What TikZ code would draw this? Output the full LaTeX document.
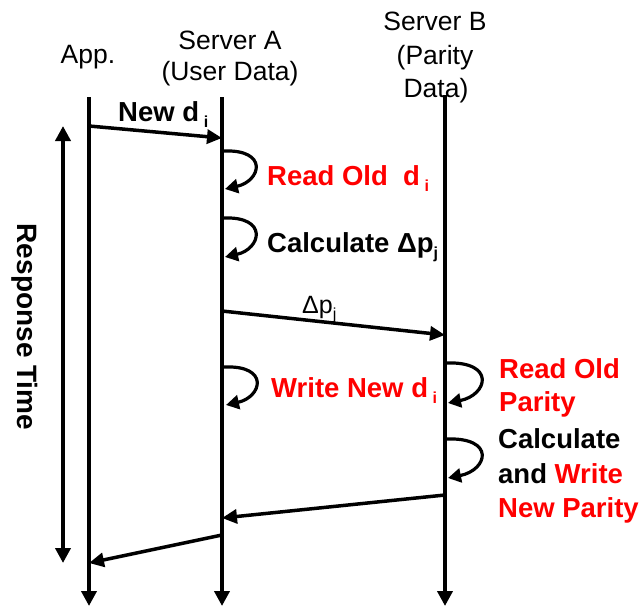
\documentclass[tikz,border=0pt]{standalone}
\usepackage{fontspec}
\setmainfont{Liberation Sans}
\usetikzlibrary{arrows.meta}
\definecolor{alertred}{RGB}{255,0,0}
% lowered small index, as in "d i"
\newcommand{\lowidx}[1]{\raisebox{-6pt}{\fontsize{16}{16}\selectfont #1}}
\begin{document}
\begin{tikzpicture}[x=1pt,y=-1pt,
  lifeline/.style={line width=4pt,-{Triangle[length=15pt,width=15pt]}},
  timeline/.style={line width=4pt,{Triangle[length=15pt,width=15pt]}-{Triangle[length=15pt,width=15pt]}},
  msg/.style={line width=3.5pt,-{Triangle[length=15pt,width=14pt]}},
  selfloop/.style={line width=3.2pt,-{Triangle[length=13pt,width=14pt]}},
  head/.style={font=\fontsize{26.5}{30}\selectfont, inner sep=0pt, anchor=base},
  lbl/.style={font=\fontsize{27.5}{33}\selectfont\bfseries, inner sep=0pt, anchor=base west},
  plain/.style={font=\fontsize{25}{30}\selectfont, inner sep=0pt, anchor=base west},
]
\useasboundingbox (0,0) rectangle (643,606);

% lifelines
\coordinate (app-top) at (89,97);  \coordinate (app-bot) at (89,606);
\coordinate (a-top)   at (222,97); \coordinate (a-bot)   at (222,606);
\coordinate (b-top)   at (445,95); \coordinate (b-bot)   at (445,606);
\draw[lifeline] (app-top) -- (app-bot);
\draw[lifeline] (a-top) -- (a-bot);
\draw[lifeline] (b-top) -- (b-bot);

% headers
\node[head] (h-app) at (88,63) {App.};
\node[head] (h-a1) at (230,49) {Server A};
\node[head] (h-a2) at (230,80) {(User Data)};
\node[head] (h-b1) at (435,30) {Server B};
\node[head] (h-b2) at (435,64) {(Parity};
\node[head] (h-b3) at (436,97) {Data)};

% response time
\coordinate (rt-top) at (63,126); \coordinate (rt-bot) at (63,563);
\draw[timeline] (rt-bot) -- (rt-top);
\node[font=\fontsize{28}{30}\selectfont\bfseries, rotate=-90, inner sep=0pt] (rt) at (25,327) {Response Time};

% messages
\coordinate (m1s) at (89,126);  \coordinate (m1e) at (222,138);
\coordinate (m2s) at (222,311); \coordinate (m2e) at (445,335);
\coordinate (m3s) at (445,495); \coordinate (m3e) at (222,518);
\coordinate (m4s) at (222,535); \coordinate (m4e) at (89,563);
\draw[msg] (m1s) -- (m1e);
\draw[msg] (m2s) -- (m2e);
\draw[msg] (m3s) -- (m3e);
\draw[msg] (m4s) -- (m4e);

\node[lbl] (t-new) at (118,121) {New d\,\lowidx{i}};
\node[plain] (t-dp) at (302,313) {Δp\lowidx{\normalfont j}};

% self loops on server A
\coordinate (la1s) at (223,151); \coordinate (la1e) at (225,189);
\coordinate (la2s) at (223,218); \coordinate (la2e) at (225,257);
\coordinate (la3s) at (224,367); \coordinate (la3e) at (226,405);
\draw[selfloop] (la1s) .. controls +(46,-2) and +(36,-8) .. (la1e);
\draw[selfloop] (la2s) .. controls +(46,-2) and +(36,-8) .. (la2e);
\draw[selfloop] (la3s) .. controls +(46,-2) and +(36,-8) .. (la3e);

% self loops on server B
\coordinate (lb1s) at (446,363); \coordinate (lb1e) at (448,403);
\coordinate (lb2s) at (446,439); \coordinate (lb2e) at (448,478);
\draw[selfloop] (lb1s) .. controls +(50,-2) and +(40,-8) .. (lb1e);
\draw[selfloop] (lb2s) .. controls +(50,-2) and +(40,-8) .. (lb2e);

% step labels
\node[lbl, text=alertred] (t-read) at (267,185) {Read Old\ \ d\,\lowidx{i}};
\node[lbl] (t-calc) at (267,252) {Calculate Δp\lowidx{j}};
\node[lbl, text=alertred] (t-write) at (271,397) {Write New d\,\lowidx{i}};
\node[lbl, text=alertred] (t-rp1) at (499,378) {Read Old};
\node[lbl, text=alertred] (t-rp2) at (499,411) {Parity};
\node[lbl] (t-cw1) at (498,448) {Calculate};
\node[lbl] (t-cw2) at (498,483) {and \textcolor{alertred}{Write}};
\node[lbl, text=alertred] (t-cw3) at (498,517) {New Parity};
\end{tikzpicture}
\end{document}
